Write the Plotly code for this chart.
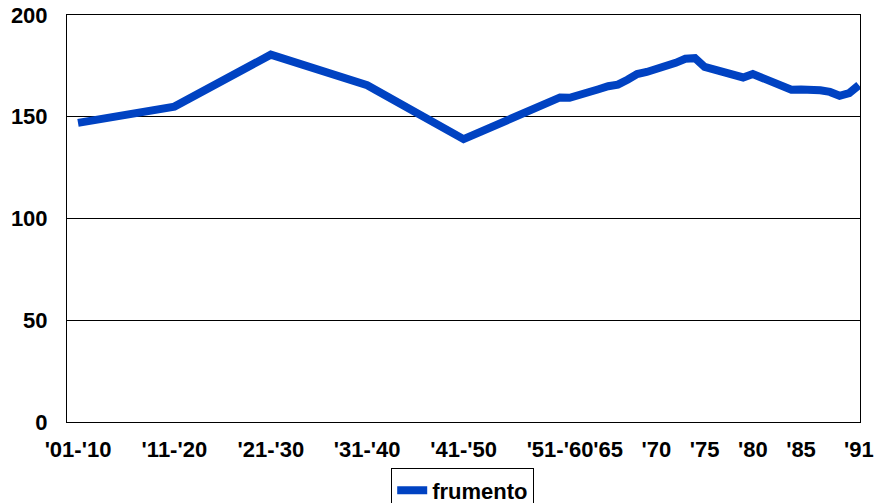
import plotly.graph_objects as go

# Data
years = [1910, 1920, 1930, 1940, 1950, 1960,
         1961, 1962, 1963, 1964, 1965, 1966, 1967, 1968, 1969, 1970,
         1971, 1972, 1973, 1974, 1975, 1976, 1977, 1978, 1979, 1980,
         1981, 1982, 1983, 1984, 1985, 1986, 1987, 1988, 1989, 1990, 1991]
frumento = [147, 155, 180.5, 165.5, 139, 159.5,
            159.3, 161, 162.2, 163.5, 165, 165.8, 168.2, 171, 172, 173.3,
            174.3, 176.5, 178.5, 178.8, 174.5, 173, 172, 171, 169.3, 171,
            169, 166.8, 165, 163.3, 163.4, 163.6, 163, 162.2, 160.3, 161.6, 165.5]

tick_positions = [1910, 1920, 1930, 1940, 1950, 1960, 1965, 1970, 1975, 1980, 1985, 1991]
tick_labels = ["'01-'10", "'11-'20", "'21-'30", "'31-'40", "'41-'50", "'51-'60",
               "'65", "'70", "'75", "'80", "'85", "'91"]

FONT = "Liberation Sans, Arial, sans-serif"
FS = 22

fig = go.Figure()
fig.add_trace(go.Scatter(
    x=years, y=frumento, mode="lines", name="<b>frumento</b>",
    line=dict(color="#0042C2", width=8),
))

fig.update_layout(
    width=876, height=503,
    margin=dict(l=67, r=16, t=15, b=81, autoexpand=False),
    paper_bgcolor="white", plot_bgcolor="white",
    font=dict(family=FONT, size=FS, color="black"),
    showlegend=True,
    legend=dict(
        orientation="h", x=0.499, xanchor="center", y=-0.114, yanchor="top",
        bordercolor="black", borderwidth=1, bgcolor="white",
        font=dict(family=FONT, size=FS, color="black"),
        itemwidth=30,
    ),
)

fig.update_xaxes(
    range=[1908.86, 1991.12], automargin=False,
    tickmode="array", tickvals=tick_positions,
    ticktext=["<b>%s</b>" % t for t in tick_labels],
    tickangle=0, showgrid=False, zeroline=False,
    showline=True, linecolor="black", linewidth=1, mirror=True,
    ticks="", ticklabelstandoff=8,
    tickfont=dict(family=FONT, size=FS, color="black"),
)
fig.update_yaxes(
    range=[0, 200], automargin=False,
    tickmode="array", tickvals=[0, 50, 100, 150, 200],
    ticktext=["<b>%d</b>" % v for v in [0, 50, 100, 150, 200]],
    showgrid=True, gridcolor="black", gridwidth=1, zeroline=False,
    showline=True, linecolor="black", linewidth=1, mirror=True,
    ticks="", ticklabelstandoff=14,
    tickfont=dict(family=FONT, size=FS, color="black"),
)

fig.write_html(
    "out.html",
    config={"displayModeBar": False},
    post_script="document.body.style.margin='0px';document.body.style.overflow='hidden';",
)
